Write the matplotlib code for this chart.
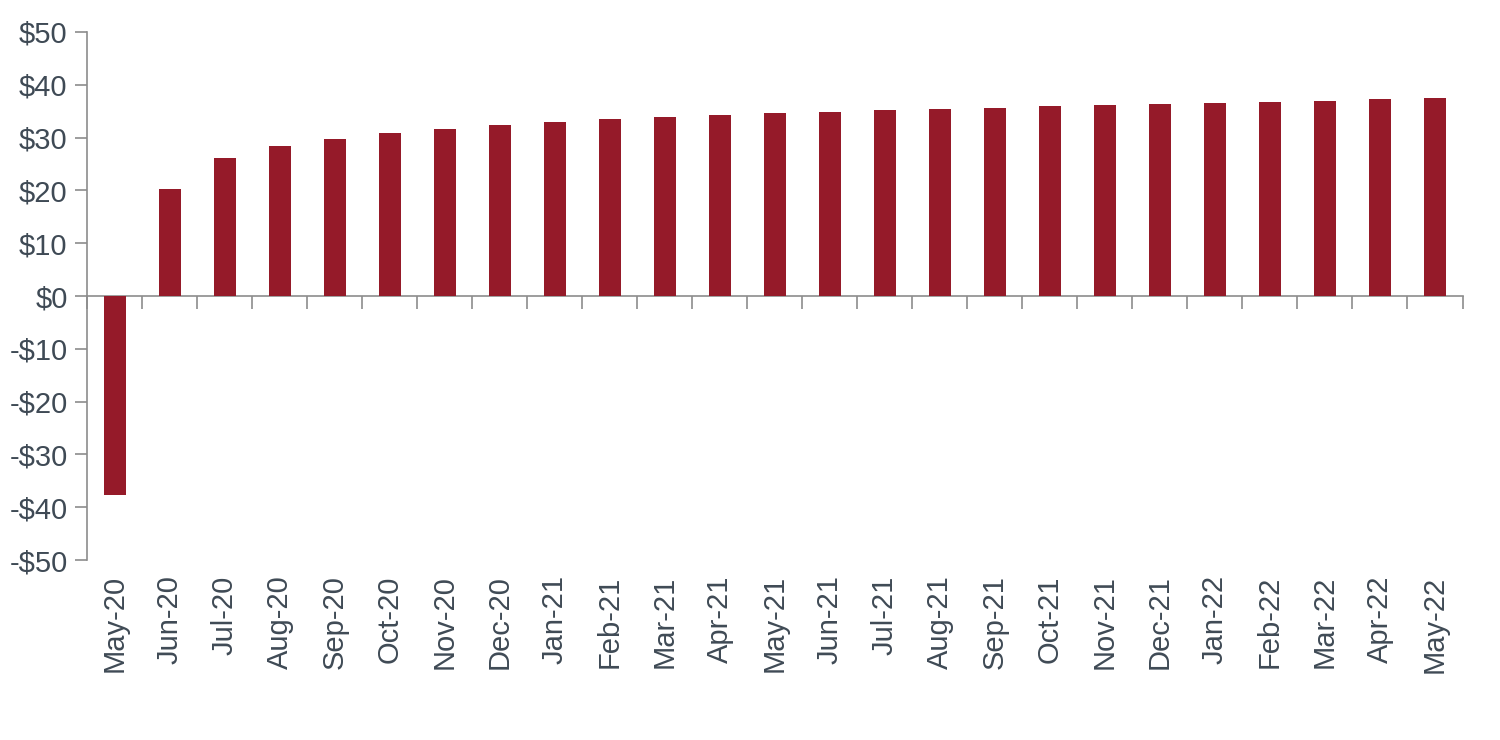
import matplotlib.pyplot as plt
import numpy as np

months = ["May-20", "Jun-20", "Jul-20", "Aug-20", "Sep-20", "Oct-20", "Nov-20",
          "Dec-20", "Jan-21", "Feb-21", "Mar-21", "Apr-21", "May-21", "Jun-21",
          "Jul-21", "Aug-21", "Sep-21", "Oct-21", "Nov-21", "Dec-21", "Jan-22",
          "Feb-22", "Mar-22", "Apr-22", "May-22"]
values = [-37.7, 20.3, 26.1, 28.4, 29.7, 30.9, 31.6, 32.4, 33.0, 33.5, 33.9,
          34.3, 34.7, 34.8, 35.2, 35.4, 35.6, 36.0, 36.2, 36.4, 36.6, 36.7,
          36.9, 37.3, 37.5]
y_ticks = list(range(-50, 51, 10))

BAR = "#951a29"
AXIS = "#8c8c8c"
TEXT = "#3f4a55"

plt.rcParams["font.family"] = ["Liberation Sans", "DejaVu Sans"]

fig = plt.figure(figsize=(15, 7.4), dpi=100)
ax = fig.add_axes([0.058, 0.2432, 0.917, 0.7136])

x = np.arange(len(months))
ax.bar(x, values, width=0.4, color=BAR, zorder=3)

ax.set_xlim(-0.5, len(months) - 0.5)
ax.set_ylim(-50, 50)

# y axis
ax.set_yticks(y_ticks)
ax.set_yticklabels([f"${v}" if v >= 0 else f"-${-v}" for v in y_ticks])
ax.tick_params(axis="y", length=9, width=1.2, color=AXIS, labelsize=21,
               labelcolor=TEXT, pad=5)

# x axis line sits at zero; labels pushed down to the bottom of the plot
ax.spines["bottom"].set_position(("data", 0))
ax.set_xticks(x)
ax.set_xticklabels(months, rotation=90)
ax.set_xticks(np.arange(-0.5, len(months), 1.0), minor=True)
zero_to_bottom = (ax.get_position().height * fig.get_figheight() * 72) / 2
ax.tick_params(axis="x", which="major", length=0, labelsize=21,
               labelcolor=TEXT, pad=zero_to_bottom + 11)
ax.tick_params(axis="x", which="minor", length=9, width=1.2, color=AXIS,
               direction="out")

for s in ["top", "right"]:
    ax.spines[s].set_visible(False)
for s in ["left", "bottom"]:
    ax.spines[s].set_color(AXIS)
    ax.spines[s].set_linewidth(1.2)

fig.savefig("out.png", dpi=100)
